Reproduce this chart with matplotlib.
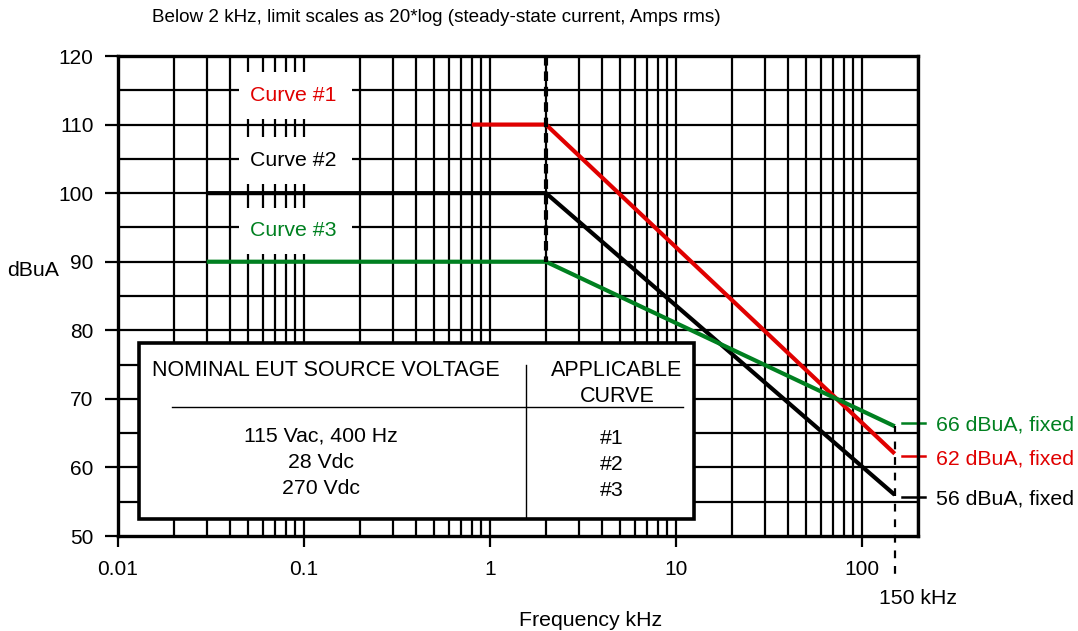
import matplotlib
matplotlib.use("Agg")
import matplotlib.pyplot as plt
from matplotlib.patches import Rectangle
import numpy as np

# limit curves (kHz, dBuA)
freq_1 = [0.8, 2, 150]
level_1 = [110, 110, 62]
freq_2 = [0.03, 2, 150]
level_2 = [100, 100, 56]
freq_3 = [0.03, 2, 150]
level_3 = [90, 90, 66]

x_ticks = [0.01, 0.1, 1, 10, 100]
x_labels = ["0.01", "0.1", "1", "10", "100"]
y_ticks = [50, 60, 70, 80, 90, 100, 110, 120]

curve_names = ["Curve #1", "Curve #2", "Curve #3"]
curve_label_y = [114.2, 104.8, 94.5]
fixed_labels = ["66 dBuA, fixed", "62 dBuA, fixed", "56 dBuA, fixed"]

voltages = ["115 Vac, 400 Hz", "28 Vdc", "270 Vdc"]
curve_ids = ["#1", "#2", "#3"]

RED = "#e00000"
GREEN = "#008020"
BLACK = "black"
FS = 15.3

plt.rcParams["font.family"] = ["Liberation Sans", "DejaVu Sans"]

W, H = 1078, 631
fig = plt.figure(figsize=(W / 100, H / 100), dpi=100)
L, R, T, B = 118, 918, 56, 536
ax = fig.add_axes([L / W, 1 - B / H, (R - L) / W, (B - T) / H])


def px(x, y):
    # pixel position -> axes fraction
    return (x - L) / (R - L), (B - y) / (B - T)


ax.set_xscale("log")
ax.set_xlim(0.01, 200)
ax.set_ylim(50, 120)

# grid
minor = [m * 10.0 ** d for d in range(-2, 3) for m in range(1, 10)]
minor = [v for v in minor if 0.01 < v <= 200]
for v in minor:
    ax.axvline(v, color="black", lw=1.6, zorder=0.5)
for v in range(55, 120, 5):
    ax.axhline(v, color="black", lw=1.6, zorder=0.5)

# white boxes behind curve labels
for yc, name, col in zip(curve_label_y, curve_names, [RED, BLACK, GREEN]):
    ax.add_patch(Rectangle((0.045, yc - 3.4), 0.182 - 0.045, 6.8,
                           facecolor="white", edgecolor="none", zorder=1.5))
    ax.text(0.0875, yc, name, color=col, fontsize=FS, ha="center", va="center", zorder=2)

# curves
ax.plot(freq_1, level_1, color=RED, lw=3, zorder=3, solid_capstyle="butt")
ax.plot(freq_2, level_2, color=BLACK, lw=3, zorder=3, solid_capstyle="butt")
ax.plot(freq_3, level_3, color=GREEN, lw=3, zorder=3, solid_capstyle="butt")

# dashed verticals
ax.plot([2, 2], [120, 90], color="black", lw=3, dashes=(2.3, 1.4), zorder=3.5)
ax.plot([150, 150], [66, 43.8], color="black", lw=1.6, dashes=(3.5, 3.5), zorder=3.5, clip_on=False)

# axes styling
ax.set_xticks(x_ticks)
ax.set_xticklabels(x_labels)
ax.xaxis.set_minor_locator(matplotlib.ticker.NullLocator())
ax.set_yticks(y_ticks)
ax.tick_params(axis="both", direction="out", width=1.6, labelsize=15)
ax.tick_params(axis="y", length=9.5, pad=8)
ax.tick_params(axis="x", length=8, pad=9)
for s in ax.spines.values():
    s.set_linewidth(2.4)
    s.set_zorder(5)

# table
tr = ax.transAxes
x0, y0 = px(139, 519)
x1, y1 = px(694, 343)
ax.add_patch(Rectangle((x0, y0), x1 - x0, y1 - y0, transform=tr, facecolor="white",
                       edgecolor="black", lw=2.6, zorder=4, clip_on=False))
ax.plot(*zip(px(172, 407), px(683, 407)), transform=tr, color="black", lw=1.0, zorder=4.5)
ax.plot(*zip(px(526, 365), px(526, 517)), transform=tr, color="black", lw=1.0, zorder=4.5)
ax.text(*px(152, 371), "NOMINAL EUT SOURCE VOLTAGE", transform=tr, fontsize=15.5,
        ha="left", va="center", zorder=5)
ax.text(*px(617, 370), "APPLICABLE", transform=tr, fontsize=15.5, ha="center", va="center", zorder=5)
ax.text(*px(617, 397), "CURVE", transform=tr, fontsize=15.5, ha="center", va="center", zorder=5)
for yy, v, c in zip([436, 462, 488], voltages, curve_ids):
    ax.text(*px(321, yy), v, transform=tr, fontsize=FS, ha="center", va="center", zorder=5)
    ax.text(*px(612, yy + 2), c, transform=tr, fontsize=FS, ha="center", va="center", zorder=5)

# fixed-level labels on the right
for (yd, yt), lab, col in zip([(423, 425), (456, 459), (497, 499)], fixed_labels, [GREEN, RED, BLACK]):
    ax.plot(*zip(px(902, yd), px(925, yd)), transform=tr, color=col, lw=1.8, clip_on=False)
    ax.text(*px(936, yt), lab, transform=tr, fontsize=FS, color=col, ha="left", va="center")

ax.text(*px(918, 599), "150 kHz", transform=tr, fontsize=FS, ha="center", va="center")

fig.text(591 / W, 1 - 620 / H, "Frequency kHz", fontsize=FS, ha="center", va="center")
fig.text(33 / W, 1 - 271 / H, "dBuA", fontsize=FS, ha="center", va="center")
fig.text(152 / W, 1 - 18 / H, "Below 2 kHz, limit scales as 20*log (steady-state current, Amps rms)",
         fontsize=13.6, ha="left", va="center")

fig.savefig("out.png", dpi=100)
